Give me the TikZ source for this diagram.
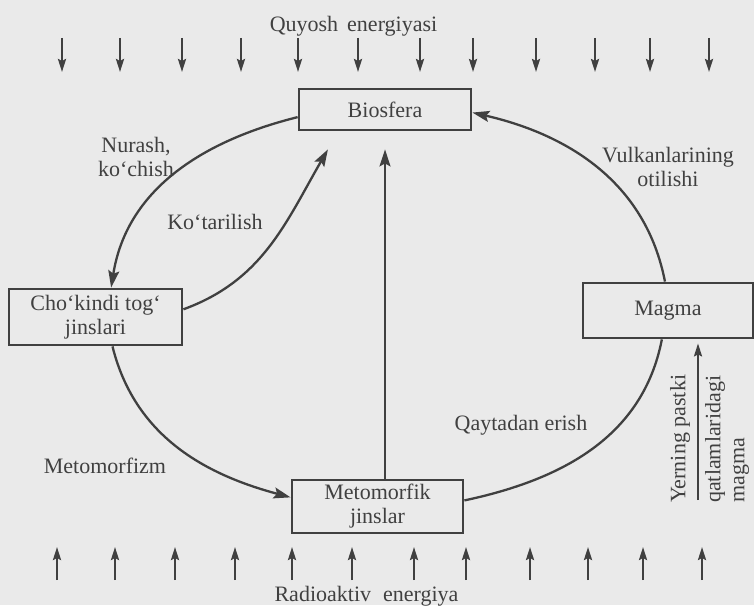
\documentclass[tikz,border=0pt]{standalone}
\usepackage{fontspec}
\setmainfont{Liberation Serif}
\usetikzlibrary{arrows.meta}
\definecolor{bg}{RGB}{234,234,234}
\definecolor{ink}{RGB}{64,64,64}
\begin{document}
\begin{tikzpicture}[x=1pt,y=1pt,
  every node/.style={text=ink, font=\fontsize{22}{24}\selectfont},
  box/.style={draw=ink, line width=2.8pt, inner sep=0pt, align=center},
  flow/.style={draw=ink, line width=2.3pt, -{Stealth[length=17pt,width=11pt,inset=3pt]}},
  plain/.style={draw=ink, line width=2.3pt},
  ray/.style={draw=ink, line width=2.4pt, -{Stealth[length=13pt,width=8pt,inset=2pt]}},
  lbl/.style={align=center, inner sep=0pt}]
\fill[bg] (0,0) rectangle (754,605);
\useasboundingbox (0,0) rectangle (754,605);

% boxes
\node[box, minimum width=172pt, minimum height=41pt] (bio) at (385,495.5) {Biosfera};
\node[box, minimum width=173pt, minimum height=56pt] (cho) at (95.5,288) {Cho‘kindi tog‘\\jinslari};
\node[box, minimum width=171pt, minimum height=53pt] (meta) at (377.5,98.5) {Metomorfik\\jinslar};
\node[box, minimum width=170pt, minimum height=55pt] (mag) at (668,294.5) {Magma};

% labels
\node[lbl, anchor=base] (quy) at (353.5,573) {Quyosh\hspace{9pt}energiyasi};
\node[lbl, anchor=base] (rad) at (366.5,4) {Radioaktiv\hspace{12pt}energiya};
\node[lbl] (nur) at (136,448) {Nurash,\\ko‘chish};
\node[lbl] (vul) at (668,438.5) {Vulkanlarining\\otilishi};
\node[lbl] (kot) at (215,383) {Ko‘tarilish};
\node[lbl] (mtf) at (105,139) {Metomorfizm};
\node[lbl] (qay) at (521,180) {Qaytadan erish};
\node[lbl, rotate=90, anchor=west] (yer) at (680,102) {Yerning pastki};
\node[lbl, rotate=90, anchor=west, align=left] (qat) at (727,102) {qatlamlaridagi\\magma};

% energy rays
\foreach \x in {62,120,182,241,298,358,420,473,536,595,650,709}
  \draw[ray] (\x,567) -- (\x,533);
\foreach \x in {57,115,175,235,292,352,414,466,530,588,643,702}
  \draw[ray] (\x,25) -- (\x,58);

% cycle
\draw[flow] (bio.185) to[out=194,in=81] (cho.62);
\draw[flow] (cho.5) to[out=20,in=240] ([yshift=-18pt]bio.201);
\draw[flow] (meta.north -| bio.south) -- ([yshift=-18pt]bio.south);
\draw[flow] (cho.300) to[out=284,in=165] (meta.174);
\draw[plain] (meta.4) to[out=12,in=259] (mag.258);
\draw[flow] (mag.96) to[out=101,in=347] (bio.-2);

% deep magma
\coordinate (deep) at (698,105);
\draw[ray, line width=2.2pt, shorten >=4pt] (deep) -- (deep |- mag.south);
\end{tikzpicture}
\end{document}
